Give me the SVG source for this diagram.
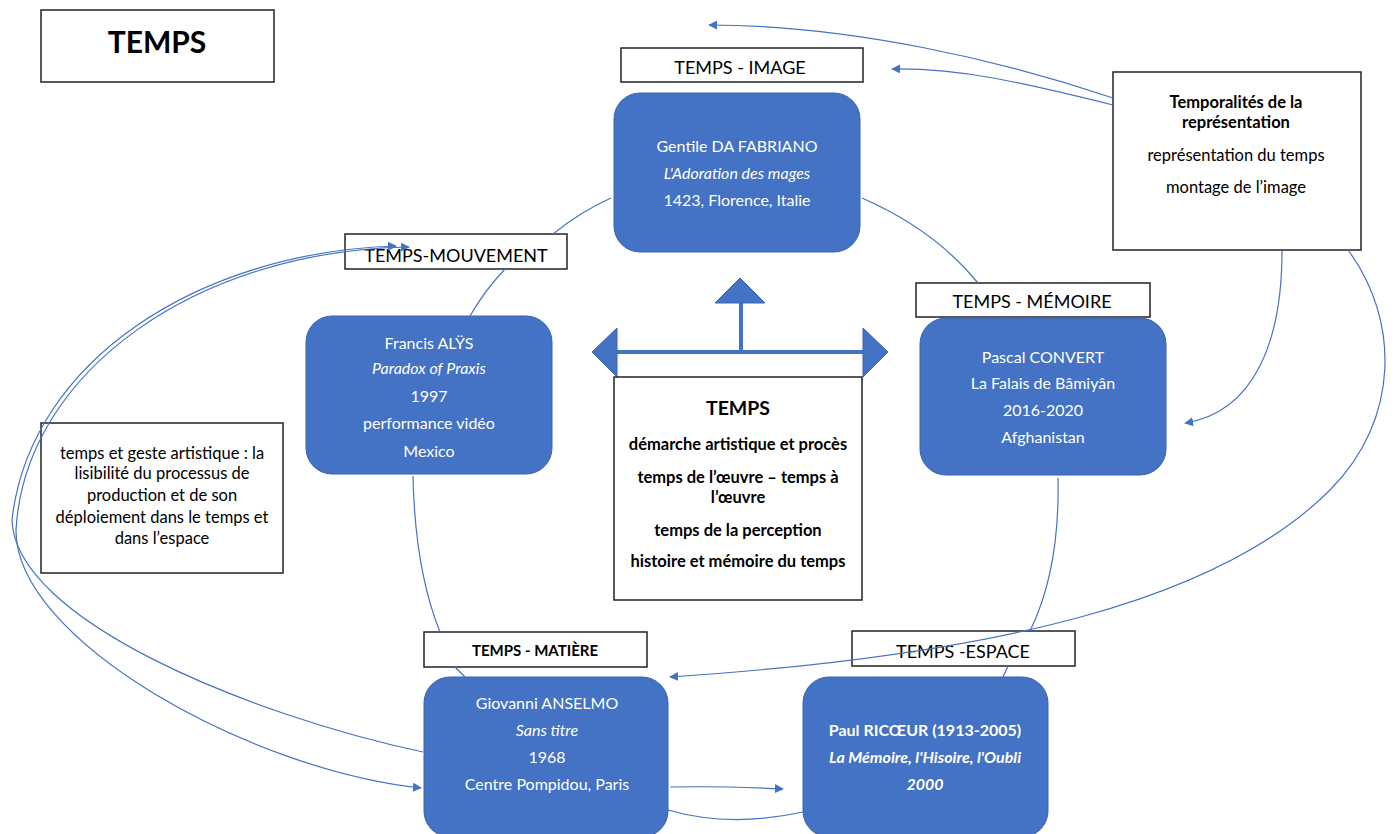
<svg xmlns="http://www.w3.org/2000/svg" width="1400" height="834" viewBox="0 0 1400 834">
<defs>
<style>
.lbl{fill:#fff;stroke:#222;stroke-width:1.5}
.blue{fill:#4472C4;stroke:#3A64B0;stroke-width:1}
.wt{fill:#fff;font-family:Lato,"Liberation Sans",sans-serif;font-size:16px;text-anchor:middle}
.bk{fill:#000;font-family:Lato,"Liberation Sans",sans-serif;font-size:16.5px;text-anchor:middle}
.lt{fill:#000;font-family:Lato,"Liberation Sans",sans-serif;font-size:18px;text-anchor:middle}
.b{font-weight:bold}
.i{font-style:italic}
.con{fill:none;stroke:#4472C4;stroke-width:1.2}
</style>
<marker id="ah" viewBox="0 0 10 10" refX="9" refY="5" markerWidth="9" markerHeight="9" markerUnits="userSpaceOnUse" orient="auto-start-reverse">
<path d="M0,0 L10,5 L0,10 z" fill="#4472C4"/>
</marker>
</defs>
<rect width="1400" height="834" fill="#fff"/>

<g id="title">
<rect class="lbl" x="41" y="10" width="233" height="72"/>
<text x="157" y="53" style="font-family:Lato,'Liberation Sans',sans-serif;font-size:30px;font-weight:bold;text-anchor:middle">TEMPS</text>
</g>

<g id="label-image">
<rect class="lbl" x="621" y="48" width="242" height="34"/>
<text class="lt" x="740" y="74">TEMPS - IMAGE</text>
</g>
<g id="node-gentile">
<rect class="blue" x="614" y="93" width="246" height="159" rx="26"/>
<text class="wt" x="737" y="152">Gentile DA FABRIANO</text>
<text class="wt i" x="737" y="179">L'Adoration des mages</text>
<text class="wt" x="737" y="206">1423, Florence, Italie</text>
</g>

<g id="node-temporalites">
<rect class="lbl" x="1113" y="72" width="248" height="178"/>
<text class="bk b" x="1236" y="108">Temporalités de la</text>
<text class="bk b" x="1236" y="128">représentation</text>
<text class="bk" x="1236" y="161">représentation du temps</text>
<text class="bk" x="1236" y="193">montage de l’image</text>
</g>

<g id="label-mouvement">
<rect class="lbl" x="345" y="234" width="222" height="35"/>
<text class="lt" x="456" y="262">TEMPS-MOUVEMENT</text>
</g>
<g id="node-francis">
<rect class="blue" x="306" y="316" width="246" height="158" rx="26"/>
<text class="wt" x="429" y="349">Francis ALŸS</text>
<text class="wt i" x="429" y="374">Paradox of Praxis</text>
<text class="wt" x="429" y="402">1997</text>
<text class="wt" x="429" y="429">performance vidéo</text>
<text class="wt" x="429" y="457">Mexico</text>
</g>

<g id="node-temps-center">
<rect x="617" y="352" width="246" height="25" fill="#fff"/>
<path class="blue" d="M617,328 L592,352 L617,377 Z"/>
<path class="blue" d="M863,328 L888,352 L863,377 Z"/>
<line x1="617" y1="352" x2="863" y2="352" stroke="#4472C4" stroke-width="4"/>
<line x1="741" y1="302" x2="741" y2="352" stroke="#4472C4" stroke-width="4"/>
<path class="blue" d="M715,303 L740,278 L765,303 Z"/>
<rect class="lbl" x="614" y="377" width="248" height="223"/>
<text x="738" y="415" style="font-family:Lato,'Liberation Sans',sans-serif;font-size:19.5px;font-weight:bold;text-anchor:middle">TEMPS</text>
<text class="bk b" x="738" y="450">démarche artistique et procès</text>
<text class="bk b" x="738" y="483">temps de l’œuvre – temps à</text>
<text class="bk b" x="738" y="503">l’œuvre</text>
<text class="bk b" x="738" y="536">temps de la perception</text>
<text class="bk b" x="738" y="567">histoire et mémoire du temps</text>
</g>

<g id="label-memoire">
<rect class="lbl" x="916" y="283" width="234" height="34"/>
<text class="lt" x="1032" y="308">TEMPS - MÉMOIRE</text>
</g>
<g id="node-pascal">
<rect class="blue" x="920" y="318" width="246" height="157" rx="26"/>
<text class="wt" x="1043" y="363">Pascal CONVERT</text>
<text class="wt" x="1043" y="389">La Falais de Bâmiyân</text>
<text class="wt" x="1043" y="416">2016-2020</text>
<text class="wt" x="1043" y="443">Afghanistan</text>
</g>

<g id="node-geste">
<rect class="lbl" x="41" y="423" width="242" height="150"/>
<text class="bk" x="162" y="459">temps et geste artistique : la</text>
<text class="bk" x="162" y="479">lisibilité du processus de</text>
<text class="bk" x="162" y="501">production et de son</text>
<text class="bk" x="162" y="523">déploiement dans le temps et</text>
<text class="bk" x="162" y="544">dans l’espace</text>
</g>

<g id="label-matiere">
<rect class="lbl" x="424" y="632" width="223" height="35"/>
<text class="b" x="535" y="656" style="font-family:Lato,'Liberation Sans',sans-serif;font-size:15px;text-anchor:middle">TEMPS - MATIÈRE</text>
</g>
<g id="node-giovanni">
<rect class="blue" x="424" y="677" width="244" height="160" rx="26"/>
<text class="wt" x="547" y="709">Giovanni ANSELMO</text>
<text class="wt i" x="547" y="736">Sans titre</text>
<text class="wt" x="547" y="763">1968</text>
<text class="wt" x="547" y="790">Centre Pompidou, Paris</text>
</g>

<g id="label-espace">
<rect class="lbl" x="852" y="631" width="223" height="35"/>
<text class="lt" x="963" y="658">TEMPS -ESPACE</text>
</g>
<g id="node-paul">
<rect class="blue" x="803" y="677" width="245" height="160" rx="26"/>
<text class="wt b" x="925" y="736">Paul RICŒUR (1913-2005)</text>
<text class="wt b i" x="925" y="763">La Mémoire, l'Hisoire, l'Oubli</text>
<text class="wt b i" x="925" y="790">2000</text>
</g>

<g id="connectors">
<path class="con" d="M611,198 Q580,212 553,234"/>
<path class="con" d="M505,269 Q485,290 470,316"/>
<path class="con" d="M862,198 Q935,230 978,283"/>
<path class="con" d="M413,476 Q415,570 440,632"/>
<path class="con" d="M455,667 Q460,672 465,677"/>
<path class="con" d="M1058,478 Q1060,570 1030,631"/>
<path class="con" d="M1008,666 L1003,677"/>
<path class="con" d="M1113,98 C1000,60 850,25 709,25" marker-end="url(#ah)"/>
<path class="con" d="M1113,105 C1020,82 960,68 892,69" marker-end="url(#ah)"/>
<path class="con" d="M1282,251 C1282,340 1255,412 1185,423" marker-end="url(#ah)"/>
<path class="con" d="M1348,250 C1400,320 1400,420 1330,490 C1220,600 1000,655 670,677" marker-end="url(#ah)"/>
<path class="con" d="M423,752 C250,715 15,620 12,520 C30,360 200,252 396,246" marker-end="url(#ah)"/>
<path class="con" d="M409,247 C200,250 25,370 16,530 C15,640 250,770 421,788" marker-start="url(#ah)" marker-end="url(#ah)"/>
<path class="con" d="M670,787 Q720,786 783,789" marker-end="url(#ah)"/>
<path class="con" d="M668,810 Q730,828 803,812"/>
</g>
</svg>
